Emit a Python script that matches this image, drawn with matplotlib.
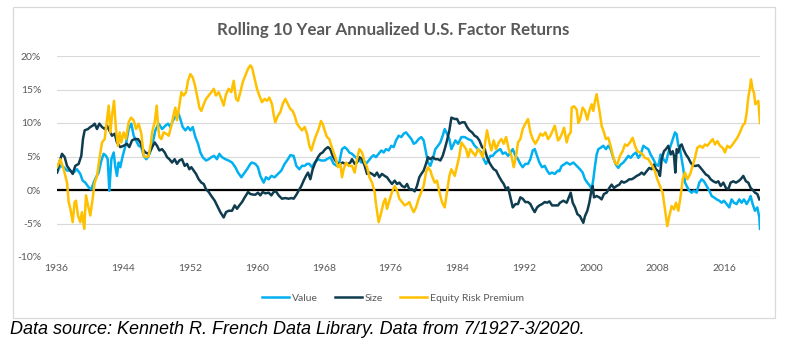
import matplotlib
matplotlib.use("Agg")
import matplotlib.pyplot as plt
from matplotlib.patches import Rectangle
from matplotlib.lines import Line2D

# ---------------- data (rolling 10y annualized returns, %) ----------------
erp_years = [1936.06, 1936.46, 1936.86, 1937.26, 1937.46, 1937.66, 1937.94, 1938.17, 1938.33, 1938.57,
             1938.85, 1939.05, 1939.33, 1939.53, 1939.77, 1940.05, 1940.33, 1940.57, 1940.85, 1941.13,
             1941.45, 1941.77, 1942.05, 1942.25, 1942.45, 1942.65, 1942.89, 1943.12, 1943.36, 1943.56,
             1943.76, 1944.04, 1944.32, 1944.64, 1944.92, 1945.24, 1945.52, 1945.84, 1946.16, 1946.44,
             1946.76, 1947.04, 1947.32, 1947.44, 1947.76, 1948.00, 1948.16, 1948.32, 1948.56, 1948.84,
             1949.12, 1949.44, 1949.76, 1950.03, 1950.23, 1950.43, 1950.71, 1950.95, 1951.23, 1951.51,
             1951.75, 1952.03, 1952.31, 1952.55, 1952.83, 1953.11, 1953.35, 1953.63, 1953.91, 1954.23,
             1954.55, 1954.83, 1955.10, 1955.42, 1955.74, 1956.02, 1956.30, 1956.62, 1956.94, 1957.22,
             1957.50, 1957.74, 1958.02, 1958.30, 1958.62, 1958.94, 1959.22, 1959.41, 1959.73, 1960.01,
             1960.29, 1960.61, 1960.93, 1961.21, 1961.49, 1961.81, 1962.00, 1962.20, 1962.52, 1962.80,
             1963.08, 1963.40, 1963.72, 1964.00, 1964.28, 1964.52, 1964.80, 1965.08, 1965.40, 1965.72,
             1966.00, 1966.28, 1966.52, 1966.80, 1967.07, 1967.39, 1967.67, 1967.87, 1968.11, 1968.39,
             1968.67, 1968.91, 1969.19, 1969.47, 1969.71, 1969.99, 1970.19, 1970.39, 1970.67, 1970.99,
             1971.39, 1971.71, 1971.99, 1972.27, 1972.59, 1972.91, 1973.19, 1973.47, 1973.79, 1974.10,
             1974.26, 1974.58, 1974.90, 1975.18, 1975.38, 1975.58, 1975.86, 1976.18, 1976.50, 1976.78,
             1977.06, 1977.38, 1977.70, 1977.98, 1978.26, 1978.50, 1978.78, 1979.06, 1979.37, 1979.69,
             1979.97, 1980.25, 1980.49, 1980.77, 1980.97, 1981.29, 1981.57, 1981.85, 1982.17, 1982.49,
             1982.77, 1983.05, 1983.29, 1983.69, 1983.97, 1984.25, 1984.49, 1984.77, 1985.05, 1985.29,
             1985.57, 1985.85, 1986.16, 1986.48, 1986.76, 1987.04, 1987.28, 1987.56, 1987.84, 1988.08,
             1988.36, 1988.64, 1988.96, 1989.28, 1989.56, 1989.84, 1990.16, 1990.48, 1990.76, 1991.03,
             1991.27, 1991.55, 1991.83, 1992.15, 1992.47, 1992.75, 1993.03, 1993.35, 1993.67, 1993.95,
             1994.23, 1994.55, 1994.87, 1995.15, 1995.43, 1995.67, 1996.06, 1996.22, 1996.50, 1996.78,
             1997.10, 1997.30, 1997.58, 1997.70, 1997.98, 1998.30, 1998.50, 1998.69, 1999.01, 1999.29,
             1999.57, 1999.81, 2000.09, 2000.29, 2000.49, 2000.69, 2000.89, 2001.09, 2001.28, 2001.56,
             2001.80, 2002.08, 2002.36, 2002.60, 2002.88, 2003.16, 2003.48, 2003.80, 2004.08, 2004.36,
             2004.68, 2005.00, 2005.28, 2005.56, 2005.88, 2006.20, 2006.47, 2006.87, 2007.27, 2007.67,
             2007.95, 2008.27, 2008.59, 2008.87, 2009.15, 2009.39, 2009.67, 2009.95, 2010.19, 2010.47,
             2010.75, 2010.99, 2011.27, 2011.55, 2011.86, 2012.18, 2012.46, 2012.74, 2013.06, 2013.38,
             2013.66, 2013.94, 2014.26, 2014.58, 2014.86, 2015.14, 2015.46, 2015.78, 2016.05, 2016.33,
             2016.65, 2016.97, 2017.25, 2017.53, 2017.85, 2018.17, 2018.45, 2018.65, 2018.85, 2019.05,
             2019.17, 2019.37, 2019.53, 2019.69, 2019.85, 2020.05, 2020.25]
erp_pct = [3.4, 4.6, 3.1, 1.1, -1.8, -2.8, -4.8, -1.8, -1.6, -3.8,
           -4.8, -3.3, -5.8, -0.8, -2.3, -3.8, -1.3, 1.1, 2.1, 4.6,
           7.1, 7.6, 10.6, 12.6, 8.6, 11.1, 13.3, 9.1, 6.6, 8.6,
           7.1, 8.6, 7.6, 10.1, 10.8, 10.4, 9.1, 9.9, 8.4, 5.1,
           4.9, 5.1, 7.1, 8.6, 10.1, 12.6, 9.6, 7.9, 7.6, 8.6,
           8.4, 8.1, 9.6, 11.3, 12.3, 10.4, 12.6, 14.6, 14.1, 14.6,
           16.3, 17.3, 16.8, 15.8, 14.1, 12.3, 11.8, 12.8, 13.6, 14.1,
           14.6, 15.1, 14.1, 14.6, 13.6, 12.6, 14.3, 15.1, 14.6, 16.3,
           13.6, 13.3, 14.6, 16.1, 17.1, 18.1, 18.6, 18.3, 16.6, 15.1,
           14.1, 13.1, 13.6, 13.3, 13.8, 12.8, 11.3, 10.1, 11.1, 11.6,
           12.8, 13.6, 12.8, 12.1, 11.8, 11.1, 9.9, 9.4, 8.9, 9.4,
           8.4, 6.6, 5.9, 7.1, 8.1, 9.1, 10.3, 9.9, 8.9, 7.9,
           7.6, 6.6, 5.6, 4.6, 3.4, 3.9, 1.9, 3.1, 4.1, 3.6,
           3.6, 2.6, 4.6, 6.1, 5.6, 4.1, 3.4, 1.9, 1.1, -0.3,
           -2.1, -4.8, -3.3, -1.8, -1.3, -2.8, -1.6, -0.3, 0.6, -0.1,
           -1.3, -1.8, -2.3, -2.1, -1.8, -2.6, -3.3, -2.6, -1.3, -0.3,
           0.6, 2.6, 3.4, 2.9, 2.1, 1.1, 1.4, -0.3, -1.8, -2.6,
           -0.3, 2.1, 3.1, 2.1, 3.6, 5.1, 7.1, 6.6, 6.1, 4.9,
           6.1, 5.6, 5.1, 6.1, 5.6, 4.9, 6.6, 8.9, 7.1, 5.9,
           7.4, 6.1, 7.1, 7.6, 6.9, 7.9, 6.1, 5.1, 3.4, 5.1,
           7.1, 7.6, 9.1, 9.9, 10.6, 8.6, 7.6, 6.9, 7.6, 8.4,
           8.1, 8.6, 7.6, 8.1, 8.9, 9.6, 7.4, 7.6, 8.3, 9.3,
           7.1, 8.1, 8.6, 12.3, 12.5, 12.0, 10.0, 10.5, 12.3, 11.8,
           10.5, 11.8, 12.8, 11.8, 13.3, 14.3, 12.8, 11.3, 9.6, 8.6,
           7.6, 7.8, 6.6, 5.3, 4.1, 3.8, 5.1, 5.8, 6.8, 6.6,
           7.1, 7.8, 6.6, 5.8, 5.6, 5.3, 4.8, 4.6, 3.8, 2.8,
           1.6, 0.6, -0.4, -2.9, -5.4, -3.9, -2.4, -2.9, -1.9, -3.1,
           -0.9, 1.6, 2.6, 1.6, 2.3, 3.6, 4.8, 6.3, 6.6, 6.3,
           6.8, 6.6, 7.1, 7.6, 6.8, 7.3, 6.6, 6.3, 5.6, 6.6,
           6.3, 6.8, 7.3, 7.8, 8.6, 9.6, 10.0, 11.5, 13.8, 15.3,
           16.5, 15.0, 14.5, 12.8, 13.0, 13.3, 10.0]

value_years = [1936.06, 1936.46, 1936.86, 1937.26, 1937.66, 1938.05, 1938.45, 1938.85, 1939.13, 1939.45,
               1939.85, 1940.17, 1940.45, 1940.73, 1941.05, 1941.37, 1941.65, 1941.93, 1942.13, 1942.33,
               1942.57, 1942.85, 1943.05, 1943.24, 1943.44, 1943.64, 1943.84, 1944.04, 1944.32, 1944.64,
               1944.96, 1945.24, 1945.52, 1945.84, 1946.16, 1946.44, 1946.76, 1947.04, 1947.36, 1947.84,
               1948.24, 1948.64, 1949.04, 1949.36, 1949.64, 1949.91, 1950.23, 1950.55, 1950.83, 1951.11,
               1951.43, 1951.75, 1952.03, 1952.31, 1952.63, 1952.95, 1953.23, 1953.51, 1953.91, 1954.23,
               1954.55, 1954.87, 1955.22, 1955.50, 1955.82, 1956.22, 1956.62, 1957.02, 1957.42, 1957.74,
               1958.14, 1958.42, 1958.82, 1959.22, 1959.41, 1959.81, 1960.13, 1960.41, 1960.81, 1961.09,
               1961.41, 1961.73, 1962.12, 1962.52, 1962.92, 1963.32, 1963.72, 1964.00, 1964.40, 1964.72,
               1965.08, 1965.40, 1965.72, 1966.00, 1966.28, 1966.60, 1966.92, 1967.32, 1967.71, 1968.11,
               1968.39, 1968.79, 1969.19, 1969.59, 1969.87, 1970.19, 1970.51, 1970.79, 1971.07, 1971.39,
               1971.79, 1972.19, 1972.51, 1972.79, 1973.07, 1973.39, 1973.71, 1973.98, 1974.26, 1974.58,
               1974.90, 1975.18, 1975.46, 1975.78, 1976.10, 1976.38, 1976.66, 1976.98, 1977.30, 1977.58,
               1977.86, 1978.18, 1978.50, 1978.78, 1979.06, 1979.37, 1979.69, 1979.97, 1980.25, 1980.49,
               1980.77, 1981.05, 1981.37, 1981.69, 1981.97, 1982.25, 1982.49, 1982.77, 1983.05, 1983.29,
               1983.77, 1984.09, 1984.49, 1984.89, 1985.29, 1985.69, 1986.08, 1986.48, 1986.88, 1987.16,
               1987.44, 1987.68, 1987.96, 1988.24, 1988.56, 1988.88, 1989.16, 1989.44, 1989.76, 1990.08,
               1990.36, 1990.64, 1990.96, 1991.27, 1991.55, 1991.83, 1992.15, 1992.47, 1992.75, 1993.03,
               1993.27, 1993.55, 1993.83, 1994.15, 1994.47, 1994.75, 1995.03, 1995.35, 1995.67, 1996.06,
               1996.22, 1996.50, 1996.78, 1997.10, 1997.50, 1997.90, 1998.30, 1998.69, 1999.01, 1999.29,
               1999.57, 1999.89, 2000.09, 2000.29, 2000.49, 2000.69, 2000.89, 2001.16, 2001.48, 2001.80,
               2002.08, 2002.36, 2002.68, 2002.99, 2003.28, 2003.56, 2003.88, 2004.20, 2004.48, 2004.76,
               2005.08, 2005.40, 2005.68, 2005.96, 2006.28, 2006.59, 2006.87, 2007.15, 2007.47, 2007.79,
               2008.07, 2008.35, 2008.67, 2008.99, 2009.27, 2009.55, 2009.87, 2010.07, 2010.27, 2010.47,
               2010.67, 2010.87, 2011.07, 2011.27, 2011.47, 2011.78, 2012.06, 2012.34, 2012.66, 2012.98,
               2013.26, 2013.54, 2013.86, 2014.18, 2014.46, 2014.74, 2015.06, 2015.38, 2015.66, 2015.93,
               2016.25, 2016.57, 2016.85, 2017.13, 2017.45, 2017.77, 2018.05, 2018.33, 2018.65, 2018.97,
               2019.13, 2019.37, 2019.65, 2019.93, 2020.17, 2020.25]
value_pct = [2.6, 3.6, 3.4, 2.9, 2.9, 2.6, 3.1, 2.4, 1.4, 1.1,
             0.4, 0.1, 1.1, 1.9, 2.6, 4.4, 5.4, 5.1, 4.6, -0.1,
             4.6, 5.6, 3.4, 2.1, 4.1, 3.4, 4.6, 5.6, 6.9, 9.1,
             9.9, 8.1, 7.4, 6.6, 6.4, 5.1, 4.6, 5.1, 6.1, 8.9,
             9.9, 9.1, 9.6, 9.9, 9.4, 10.3, 10.9, 11.6, 10.6, 9.4,
             8.9, 9.4, 8.9, 9.4, 7.9, 6.9, 5.6, 4.9, 4.4, 4.6,
             4.9, 5.1, 4.6, 5.4, 4.9, 4.6, 4.4, 4.1, 3.4, 2.6,
             1.9, 2.4, 3.1, 3.9, 4.1, 3.9, 3.4, 2.1, 1.1, 1.9,
             1.6, 2.1, 1.9, 2.4, 2.9, 3.9, 4.6, 5.2, 5.1, 3.6,
             3.1, 3.6, 3.6, 3.9, 3.9, 3.4, 4.1, 4.6, 4.4, 4.4,
             4.6, 4.9, 3.9, 3.6, 4.1, 6.1, 6.4, 6.1, 5.6, 5.4,
             4.9, 4.6, 4.1, 4.4, 3.9, 4.4, 4.9, 5.2, 4.9, 5.4,
             5.9, 5.6, 6.1, 5.9, 6.6, 6.4, 7.4, 8.1, 7.9, 8.4,
             8.6, 8.1, 7.6, 6.9, 7.1, 7.6, 7.9, 7.4, 5.6, 4.1,
             3.6, 4.6, 6.1, 6.6, 7.1, 8.1, 9.1, 8.4, 7.6, 6.1,
             7.4, 6.9, 7.9, 7.9, 7.6, 7.4, 6.6, 6.1, 5.6, 4.6,
             3.9, 4.4, 5.1, 5.1, 5.6, 5.9, 6.1, 5.4, 5.6, 5.1,
             5.6, 6.1, 5.1, 4.6, 3.9, 3.4, 3.9, 3.9, 4.6, 5.9,
             6.1, 5.1, 4.1, 3.4, 3.6, 2.9, 2.4, 2.6, 2.4, 2.9,
             2.8, 3.6, 3.8, 4.1, 3.8, 4.1, 3.6, 3.1, 2.6, 1.6,
             1.1, 0.6, 0.1, 1.6, 3.6, 5.3, 6.1, 6.3, 6.6, 6.1,
             6.6, 6.1, 4.8, 3.8, 3.3, 3.8, 4.1, 4.6, 5.1, 4.8,
             5.3, 5.6, 4.8, 5.3, 6.6, 6.3, 6.1, 5.3, 4.6, 3.8,
             3.6, 5.3, 4.6, 4.1, 5.6, 6.6, 7.8, 8.6, 8.3, 6.6,
             6.1, 4.6, 3.1, 1.1, 0.6, -0.1, -0.4, -0.1, -0.4, 1.1,
             1.6, 1.3, 0.6, -0.1, -0.9, -1.1, -1.4, -1.6, -1.9, -1.6,
             -2.1, -2.6, -1.4, -1.9, -2.1, -1.4, -1.9, -1.4, -2.1, -1.4,
             -0.9, -2.1, -3.1, -2.6, -4.1, -5.8]

size_years = [1936.06, 1936.34, 1936.66, 1936.98, 1937.26, 1937.66, 1937.94, 1938.25, 1938.65, 1938.97,
              1939.17, 1939.37, 1939.77, 1940.05, 1940.33, 1940.57, 1940.85, 1941.13, 1941.45, 1941.77,
              1942.05, 1942.33, 1942.65, 1942.97, 1943.24, 1943.64, 1944.04, 1944.44, 1944.72, 1945.04,
              1945.36, 1945.76, 1946.04, 1946.32, 1946.64, 1947.04, 1947.32, 1947.76, 1948.04, 1948.32,
              1948.64, 1948.96, 1949.24, 1949.52, 1949.84, 1950.15, 1950.43, 1950.71, 1951.03, 1951.35,
              1951.63, 1951.91, 1952.15, 1952.43, 1952.71, 1953.03, 1953.35, 1953.63, 1953.91, 1954.23,
              1954.55, 1954.95, 1955.22, 1955.62, 1956.02, 1956.30, 1956.62, 1957.02, 1957.34, 1957.62,
              1957.90, 1958.22, 1958.54, 1958.94, 1959.22, 1959.62, 1959.81, 1960.13, 1960.41, 1960.69,
              1961.01, 1961.41, 1961.73, 1962.00, 1962.28, 1962.60, 1963.00, 1963.40, 1963.80, 1964.12,
              1964.40, 1964.68, 1965.00, 1965.32, 1965.60, 1965.88, 1966.12, 1966.40, 1966.68, 1966.99,
              1967.31, 1967.59, 1967.87, 1968.19, 1968.51, 1968.79, 1969.07, 1969.39, 1969.71, 1969.99,
              1970.27, 1970.59, 1970.91, 1971.19, 1971.39, 1971.71, 1971.99, 1972.27, 1972.59, 1972.91,
              1973.19, 1973.47, 1973.79, 1974.10, 1974.38, 1974.66, 1974.98, 1975.30, 1975.58, 1975.86,
              1976.18, 1976.50, 1976.78, 1977.06, 1977.38, 1977.70, 1977.98, 1978.26, 1978.58, 1978.90,
              1979.17, 1979.45, 1979.69, 1979.97, 1980.25, 1980.49, 1980.77, 1981.05, 1981.37, 1981.69,
              1981.97, 1982.25, 1982.49, 1982.77, 1983.05, 1983.29, 1983.69, 1983.97, 1984.25, 1984.57,
              1984.89, 1985.17, 1985.45, 1985.77, 1986.08, 1986.36, 1986.64, 1986.96, 1987.28, 1987.56,
              1987.84, 1988.08, 1988.36, 1988.64, 1988.96, 1989.28, 1989.56, 1989.84, 1990.08, 1990.36,
              1990.64, 1990.96, 1991.27, 1991.55, 1991.83, 1992.15, 1992.47, 1992.75, 1993.03, 1993.27,
              1993.55, 1993.83, 1994.15, 1994.47, 1994.75, 1995.03, 1995.35, 1995.75, 1996.06, 1996.30,
              1996.70, 1997.10, 1997.42, 1997.58, 1997.82, 1998.10, 1998.38, 1998.69, 1998.89, 1999.09,
              1999.29, 1999.57, 1999.81, 2000.09, 2000.21, 2000.37, 2000.69, 2001.01, 2001.28, 2001.56,
              2001.88, 2002.20, 2002.48, 2002.76, 2003.08, 2003.40, 2003.68, 2003.96, 2004.28, 2004.60,
              2004.88, 2005.16, 2005.48, 2005.80, 2006.08, 2006.36, 2006.67, 2006.99, 2007.27, 2007.55,
              2007.79, 2008.07, 2008.27, 2008.47, 2008.75, 2008.99, 2009.27, 2009.55, 2009.79, 2009.95,
              2010.11, 2010.27, 2010.47, 2010.67, 2010.87, 2011.07, 2011.38, 2011.66, 2011.94, 2012.26,
              2012.58, 2012.86, 2013.14, 2013.46, 2013.78, 2014.06, 2014.34, 2014.66, 2014.98, 2015.26,
              2015.54, 2015.86, 2016.17, 2016.45, 2016.73, 2017.05, 2017.37, 2017.65, 2017.93, 2018.25,
              2018.57, 2018.85, 2019.13, 2019.45, 2019.65, 2019.93, 2020.17]
size_pct = [2.6, 4.1, 5.4, 4.9, 3.6, 2.9, 2.4, 3.6, 3.9, 5.1,
            7.6, 8.9, 9.1, 9.4, 9.6, 9.9, 9.1, 9.9, 9.4, 9.1,
            9.6, 8.9, 8.1, 8.4, 7.1, 6.4, 6.6, 6.9, 6.4, 7.4,
            7.6, 7.6, 7.1, 6.1, 5.6, 5.4, 6.1, 7.1, 6.6, 5.9,
            6.1, 5.6, 4.9, 4.6, 4.1, 4.6, 3.9, 4.4, 4.6, 3.6,
            3.9, 3.1, 3.4, 2.9, 2.4, 1.6, 1.1, 0.9, 0.1, -0.3,
            -0.9, -1.6, -2.3, -3.3, -4.1, -3.3, -3.1, -3.1, -2.3, -2.8,
            -2.3, -1.8, -1.1, -0.3, -0.6, -0.7, -0.7, -0.4, -0.8, -0.3,
            -0.5, -0.4, -0.8, -0.3, -0.2, -0.8, -1.3, -1.2, -1.3, -1.2,
            -1.3, -0.8, -0.1, 0.6, 1.4, 2.1, 2.6, 1.6, 3.1, 4.1,
            4.9, 5.4, 5.6, 6.1, 6.4, 6.1, 5.1, 4.4, 3.9, 3.9,
            4.1, 3.9, 3.9, 4.1, 4.6, 3.9, 4.1, 4.9, 4.6, 3.6,
            2.4, 2.6, 2.4, 2.1, 2.6, 1.9, 2.4, 2.1, 1.9, 1.4,
            0.9, 1.4, 0.9, 1.1, 0.6, 0.4, 0.9, 0.1, 0.1, -0.2,
            0.6, 1.9, 2.4, 2.9, 3.9, 4.9, 4.6, 4.9, 4.6, 4.6,
            4.4, 5.1, 6.1, 7.4, 8.9, 10.8, 10.6, 10.6, 9.9, 10.1,
            10.1, 9.4, 8.9, 8.6, 8.1, 7.9, 7.4, 6.4, 6.1, 4.9,
            4.1, 3.6, 3.1, 2.9, 2.1, 1.4, 0.9, 0.1, 0.4, -1.1,
            -2.6, -2.1, -2.1, -1.1, -1.3, -1.8, -1.8, -2.1, -2.8, -3.3,
            -2.6, -2.3, -2.1, -1.8, -1.9, -1.7, -2.3, -2.3, -2.3, -1.9,
            -1.6, -1.9, -0.9, -0.4, -1.9, -2.6, -3.6, -3.9, -4.4, -4.9,
            -3.9, -3.1, -1.9, 0.1, 0.6, -1.1, -0.9, -1.1, -1.4, -0.6,
            -0.4, 0.3, 0.8, 0.3, 0.6, 0.8, 1.3, 1.1, 1.3, 1.6,
            1.6, 1.8, 2.1, 2.3, 2.6, 2.3, 2.8, 3.3, 3.1, 3.8,
            3.1, 2.8, 2.1, 4.6, 5.8, 6.1, 6.6, 5.3, 5.8, 5.1,
            2.6, 6.1, 5.6, 6.6, 6.8, 6.1, 5.3, 4.8, 4.1, 3.6,
            3.6, 3.7, 3.3, 2.8, 2.3, 2.1, 1.6, 1.3, 1.1, 1.3,
            0.6, 1.1, 0.3, 0.1, 1.1, 1.3, 1.1, 1.3, 1.6, 2.1,
            1.3, 1.1, 0.3, -0.1, -0.4, -0.6, -1.4]

series_names = ["Value", "Size", "Equity Risk Premium"]
series_colors = ["#00B0F0", "#0F3D4F", "#FFC000"]
y_ticks = [-10, -5, 0, 5, 10, 15, 20]
x_tick_years = [1936, 1944, 1952, 1960, 1968, 1976, 1984, 1992, 2000, 2008, 2016]
title = "Rolling 10 Year Annualized U.S. Factor Returns"
caption = "Data source: Kenneth R. French Data Library. Data from 7/1927-3/2020."

# ---------------- figure ----------------
W, H = 790, 346
fig = plt.figure(figsize=(W / 100, H / 100), dpi=100)
fig.patch.set_facecolor("white")

# chart frame
fig.patches.append(Rectangle((13 / W, 1 - 318 / H), (775 - 13) / W, (318 - 7) / H,
                             transform=fig.transFigure, fill=False,
                             edgecolor="#D9D9D9", linewidth=0.9))

ax = fig.add_axes([56.5 / W, 1 - 257 / H, (760 - 56.5) / W, (257 - 56) / H])
ax.set_xlim(1936, 2020.25)
ax.set_ylim(-10, 20)
for s in ax.spines.values():
    s.set_visible(False)

font = "Lato"
ax.set_yticks(y_ticks)
ax.set_yticklabels([f"{v}%" for v in y_ticks], fontsize=7.5, color="#595959", family=font)
ax.set_xticks(x_tick_years)
ax.set_xticklabels([str(v) for v in x_tick_years], fontsize=7.5, color="#595959", family=font)
ax.tick_params(axis="both", length=0)
ax.tick_params(axis="y", pad=11)
ax.tick_params(axis="x", pad=5)
ax.grid(axis="y", color="#D9D9D9", linewidth=0.8)
ax.set_axisbelow(True)
ax.axhline(0, color="black", linewidth=1.6, zorder=1.5)

data = [(value_years, value_pct), (size_years, size_pct), (erp_years, erp_pct)]
for (xs, ys), name, col in zip(data, series_names, series_colors):
    ax.plot(xs, ys, color=col, linewidth=1.8, label=name, zorder=2,
            solid_joinstyle="round")

fig.text(393 / W, 1 - 30 / H, title, ha="center", va="center", fontsize=12.2,
         fontweight="bold", color="#595959", family=font)

handles = [Line2D([], [], color=c, linewidth=1.8) for c in series_colors]
fig.legend(handles, series_names, loc="center", bbox_to_anchor=(393 / W, 1 - 298 / H),
           ncol=3, frameon=False, handlelength=2.6, handletextpad=0.3,
           columnspacing=1.6, prop={"family": font, "size": 7.5})
for t in fig.legends[0].get_texts():
    t.set_color("#595959")

fig.text(10 / W, 1 - 329 / H, caption, ha="left", va="center", fontsize=13,
         style="italic", color="black", family="Liberation Sans")

fig.savefig("out.png", dpi=100, facecolor="white")
